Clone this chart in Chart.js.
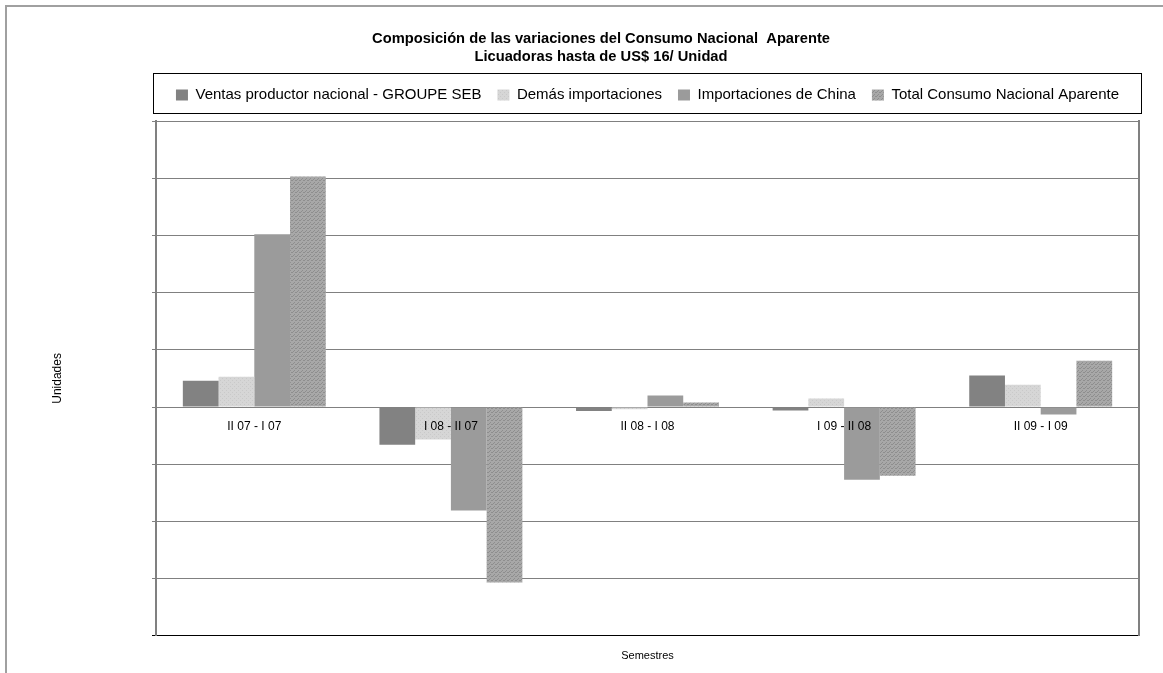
<!DOCTYPE html>
<html>
<head>
<meta charset="utf-8">
<script src="https://cdn.jsdelivr.net/npm/chart.js@4.4.0/dist/chart.umd.min.js"></script>
<style>
html, body { margin: 0; padding: 0; background: #fff; overflow: hidden; }
#frame { position: absolute; left: 5px; top: 5px; width: 1200px; height: 700px;
         border-left: 2px solid #a0a0a0; border-top: 2px solid #a0a0a0; }
#wrap { position: absolute; left: 0; top: 0; width: 1163px; height: 673px; }
</style>
</head>
<body>
<div id="frame"></div>
<div id="wrap"><canvas id="chart"></canvas></div>
<script>
// Data (no axis values are printed, one unit = one gridline step)
var semestres = ['II 07 - I 07', 'I 08 - II 07', 'II 08 - I 08', 'I 09 - II 08', 'II 09 - I 09'];
var ventasNacional = [0.46, -0.66, -0.07, -0.06, 0.55];
var demasImportaciones = [0.53, -0.57, -0.04, 0.15, 0.39];
var importacionesChina = [3.02, -1.81, 0.20, -1.27, -0.13];
var totalConsumo = [4.03, -3.07, 0.08, -1.20, 0.81];

var FONT = "'Liberation Sans', Arial, sans-serif";

// small speckled fill, like the textured bars of the original
function makePattern(base, dot, step) {
	var c = document.createElement('canvas');
	c.width = 4; c.height = 4;
	var g = c.getContext('2d');
	g.fillStyle = base;
	g.fillRect(0, 0, 4, 4);
	g.fillStyle = dot;
	g.fillRect(0, 0, 1, 1);
	g.fillRect(2, 2, 1, 1);
	if (step) {
		g.fillRect(3, 0, 1, 1);
		g.fillRect(1, 3, 1, 1);
	}
	return g.createPattern(c, 'repeat');
}

var lightFill = makePattern('#d6d6d6', '#c9c9c9', false);
var totalFill = makePattern('#a8a8a8', '#8e8e8e', true);

// draws the box round the legend
var legendBox = {
	id: 'legendBox',
	afterDraw: function(chart) {
		var lg = chart.legend;
		var ctx = chart.ctx;
		ctx.save();
		ctx.strokeStyle = '#000';
		ctx.lineWidth = 1;
		ctx.strokeRect(Math.round(lg.left) - 2.5, Math.round(lg.top + 1.5) + 0.5, Math.round(lg.width) + 5, 40);
		ctx.restore();
	}
};

new Chart(document.getElementById('chart'), {
	type: 'bar',
	data: {
		labels: semestres,
		datasets: [
			{ label: 'Ventas productor nacional - GROUPE SEB', data: ventasNacional, backgroundColor: '#828282', borderWidth: 0, xAxisID: 'x' },
			{ label: 'Demás importaciones', data: demasImportaciones, backgroundColor: lightFill, borderWidth: 0, xAxisID: 'x' },
			{ label: 'Importaciones de China', data: importacionesChina, backgroundColor: '#9b9b9b', borderWidth: 0, xAxisID: 'x' },
			{ label: 'Total Consumo Nacional Aparente', data: totalConsumo, backgroundColor: totalFill, borderWidth: 0, xAxisID: 'x' }
		]
	},
	options: {
		responsive: true,
		maintainAspectRatio: false,
		animation: false,
		layout: { padding: { left: 50, right: 11, top: 0, bottom: 5 } },
		datasets: { bar: { categoryPercentage: 0.727, barPercentage: 1.0 } },
		plugins: {
			title: {
				display: true,
				text: ['Composición de las variaciones del Consumo Nacional  Aparente', 'Licuadoras hasta de US$ 16/ Unidad'],
				color: '#000',
				font: { family: FONT, size: 14.7, weight: 'bold', lineHeight: '18px' },
				padding: { top: 30, bottom: 5.5 }
			},
			subtitle: {
				// empty spacer between legend and plot
				display: true,
				text: '',
				weight: 500,
				font: { size: 6.5, lineHeight: 1 },
				padding: { top: 1, bottom: 1 }
			},
			legend: {
				display: true,
				position: 'top',
				fullSize: false,
				labels: {
					color: '#000',
					font: { family: FONT, size: 15 },
					boxWidth: 12,
					boxHeight: 11,
					padding: 16
				}
			},
			tooltip: { enabled: false }
		},
		scales: {
			x: {
				type: 'category',
				position: { y: 0 },
				grid: { display: false, drawTicks: false },
				border: { display: false },
				ticks: { z: 1, color: '#000', font: { family: FONT, size: 12 }, padding: 12, maxRotation: 0 }
			},
			x2: {
				type: 'category',
				position: 'bottom',
				grid: { display: false, drawTicks: false },
				border: { display: false },
				ticks: { display: false },
				title: { display: true, text: 'Semestres', color: '#000', font: { family: FONT, size: 11 }, padding: { top: 14, bottom: 5 } }
			},
			y: {
				position: 'left',
				min: -4,
				max: 5,
				ticks: { display: false, stepSize: 1 },
				grid: {
					color: function(c) { return c.tick && c.tick.value === -4 ? '#000' : '#808080'; },
					lineWidth: 1,
					drawTicks: true,
					tickLength: 4
				},
				border: { display: true, color: '#808080', width: 2 },
				title: { display: true, text: 'Unidades', color: '#000', font: { family: FONT, size: 12 }, padding: 0 },
				afterFit: function(scale) { scale.width = 106; }
			},
			yR: {
				position: 'right',
				min: -4,
				max: 5,
				ticks: { display: false },
				grid: { display: false, drawTicks: false },
				border: { display: true, color: '#808080', width: 2 },
				afterFit: function(scale) { scale.width = 13; }
			}
		}
	},
	plugins: [legendBox]
});
</script>
</body>
</html>
